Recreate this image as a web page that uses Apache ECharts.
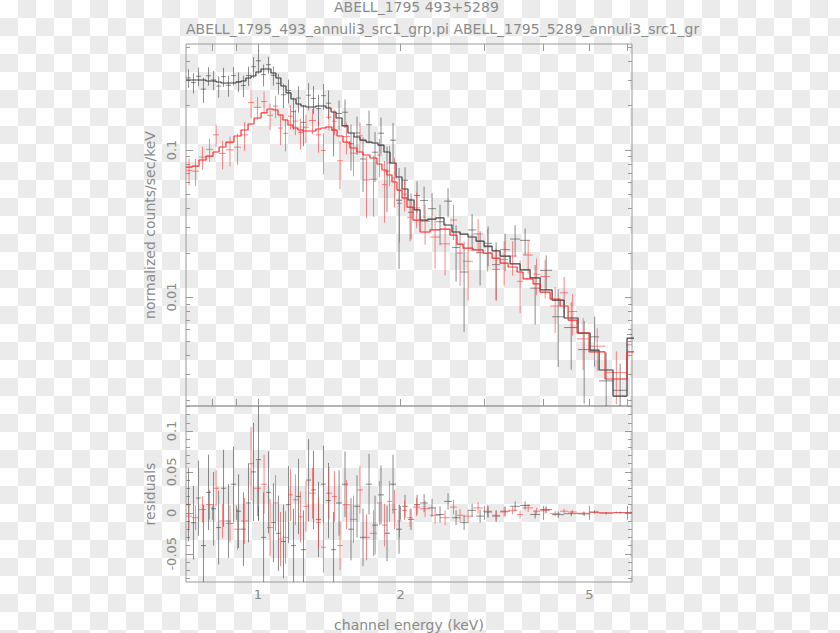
<!DOCTYPE html>
<html>
<head>
<meta charset="utf-8">
<script src="https://cdn.jsdelivr.net/npm/echarts@6/dist/echarts.min.js"></script>
<style>
  html, body { margin: 0; padding: 0; }
  body {
    width: 840px; height: 633px;
    background: repeating-conic-gradient(#ebebeb 0 25%, #ffffff 0 50%) 0 0 / 36px 36px;
  }
  #chart { width: 840px; height: 633px; }
</style>
</head>
<body>
<div id="chart"></div>
<script>
// ---- data ----
// dataset 1 (black): ABELL_1795_493
const blackEdges = [0.705,0.722,0.740,0.758,0.777,0.796,0.816,0.836,0.856,0.877,
  0.899,0.921,0.943,0.967,0.990,1.015,1.040,1.065,1.091,1.118,
  1.146,1.174,1.203,1.232,1.263,1.294,1.325,1.358,1.391,1.426,
  1.461,1.504,1.548,1.594,1.641,1.690,1.740,1.791,1.844,1.899,
  1.955,2.013,2.072,2.134,2.197,2.284,2.374,2.468,2.566,2.668,
  2.774,2.884,2.998,3.117,3.241,3.402,3.571,3.749,3.936,4.172,
  4.422,4.733,5.017,5.241,5.609,6.003,6.395]
const blackRate = [0.3094,0.2874,0.3174,0.2594,0.3197,0.2997,0.2722,0.3156,0.2756,0.3206,
  0.2922,0.2747,0.3209,0.3687,0.4043,0.3256,0.3806,0.3220,0.2839,0.2375,
  0.2543,0.1823,0.2256,0.1542,0.2361,0.2241,0.1912,0.2342,0.2081,0.1364,
  0.1771,0.1807,0.1105,0.1306,0.0869,0.1483,0.0966,0.1301,0.0719,0.1166,
  0.0455,0.0623,0.0377,0.0491,0.0454,0.0399,0.0325,0.0449,0.0217,0.0148,
  0.0286,0.0200,0.0232,0.0166,0.0210,0.0248,0.0243,0.0115,0.0152,0.00734,
  0.00620,0.00439,0.00536,0.00269,0.00232,0.00556]
const blackErr = [0.045,0.045,0.046,0.050,0.046,0.045,0.045,0.047,0.045,0.046,
  0.045,0.045,0.048,0.060,0.075,0.055,0.050,0.048,0.046,0.045,
  0.047,0.045,0.046,0.048,0.050,0.048,0.046,0.047,0.046,0.046,
  0.040,0.040,0.038,0.038,0.035,0.037,0.036,0.036,0.034,0.036,
  0.030,0.014,0.013,0.012,0.011,0.011,0.010,0.010,0.009,0.009,
  0.008,0.008,0.007,0.007,0.006,0.006,0.005,0.005,0.004,0.004,
  0.003,0.0025,0.002,0.0015,0.0012,0.0015]
const blackModel = [0.2994,0.2994,0.2994,0.2994,0.2947,0.2947,0.2902,0.2856,0.2856,0.2856,
  0.2902,0.2947,0.3089,0.3187,0.3393,0.3556,0.3556,0.3340,0.3089,0.2725,
  0.2443,0.2223,0.2056,0.1992,0.1961,0.1961,0.1992,0.1992,0.1931,0.1814,
  0.1651,0.1457,0.1305,0.1226,0.1169,0.1133,0.1116,0.1081,0.0969,0.0816,
  0.0655,0.0543,0.0457,0.0391,0.0334,0.0339,0.0345,0.0309,0.0277,0.0268,
  0.0256,0.0240,0.0222,0.0206,0.0190,0.0168,0.0153,0.0135,0.0112,0.00954,
  0.00720,0.00569,0.00436,0.00319,0.00212,0.00526]
const blackResid = [0.010,-0.012,0.018,-0.040,0.025,0.005,-0.018,0.030,-0.010,0.035,
  0.002,-0.020,0.012,0.050,0.065,-0.030,0.025,-0.012,-0.025,-0.035,
  0.010,-0.040,0.020,-0.045,0.040,0.028,-0.008,0.035,0.015,-0.045,
  0.012,0.035,-0.020,0.008,-0.030,0.035,-0.015,0.022,-0.025,0.035,
  -0.020,0.008,-0.008,0.010,0.012,0.006,-0.002,0.014,-0.006,-0.012,
  0.003,-0.004,0.001,-0.004,0.002,0.008,0.009,-0.002,0.004,-0.0022,
  -0.001,-0.0013,0.001,-0.0005,0.0002,0.0003]

// dataset 2 (red): ABELL_1795_5289
const redEdges = [0.705,0.726,0.751,0.777,0.804,0.828,0.856,0.890,0.921,0.953,
  0.981,1.015,1.045,1.076,1.102,1.129,1.157,1.185,1.214,1.244,
  1.281,1.325,1.358,1.391,1.432,1.468,1.511,1.563,1.617,1.665,
  1.723,1.782,1.826,1.871,1.917,1.964,2.013,2.062,2.123,2.197,
  2.306,2.421,2.541,2.629,2.707,2.842,2.984,3.117,3.241,3.369,
  3.520,3.624,3.804,3.936,4.132,4.337,4.509,4.710,4.993,5.396,
  6.003,6.395]
const redRate = [0.0726,0.0718,0.0895,0.1010,0.1269,0.0948,0.1003,0.1045,0.1268,0.2103,
  0.1951,0.2136,0.1721,0.1991,0.1410,0.1300,0.1699,0.1572,0.1318,0.1427,
  0.1587,0.1270,0.0992,0.1674,0.1568,0.0845,0.1233,0.0952,0.1249,0.0625,
  0.0632,0.0923,0.0581,0.0816,0.0646,0.0434,0.0502,0.0349,0.0404,0.0327,
  0.0256,0.0230,0.0334,0.0199,0.0175,0.0269,0.0219,0.0154,0.0180,0.0190,
  0.0128,0.0193,0.0143,0.0138,0.00869,0.01069,0.00797,0.00519,0.00463,0.00307,
  0.00473]
const redErr = [0.015,0.015,0.016,0.018,0.022,0.021,0.023,0.025,0.028,0.045,
  0.034,0.036,0.035,0.034,0.033,0.032,0.032,0.031,0.031,0.031,
  0.031,0.031,0.031,0.032,0.031,0.030,0.030,0.029,0.029,0.028,
  0.028,0.027,0.026,0.025,0.024,0.020,0.012,0.011,0.011,0.010,
  0.010,0.009,0.009,0.008,0.008,0.007,0.007,0.006,0.006,0.005,
  0.005,0.005,0.004,0.004,0.003,0.003,0.0025,0.002,0.0015,0.0012,
  0.0015]
const redModel = [0.0766,0.0778,0.0855,0.0910,0.0969,0.1048,0.1133,0.1245,0.1368,0.1503,
  0.1651,0.1786,0.1901,0.1871,0.1730,0.1600,0.1479,0.1412,0.1368,0.1347,
  0.1347,0.1390,0.1412,0.1434,0.1368,0.1245,0.1133,0.1032,0.0969,0.0925,
  0.0882,0.0803,0.0731,0.0676,0.0606,0.0534,0.0472,0.0409,0.0334,0.0277,
  0.0286,0.0290,0.0264,0.0229,0.0215,0.0209,0.0199,0.0184,0.0170,0.0160,
  0.0148,0.0133,0.0123,0.0108,0.00969,0.00869,0.00697,0.00569,0.00423,0.00277,
  0.00423]
const redResid = [-0.004,-0.006,0.004,0.010,0.030,-0.010,-0.013,-0.020,-0.010,0.060,
  0.030,0.035,-0.018,0.012,-0.032,-0.030,0.022,0.016,-0.005,0.008,
  0.024,-0.012,-0.042,0.024,0.020,-0.040,0.010,-0.008,0.028,-0.030,
  -0.025,0.012,-0.015,0.014,0.004,-0.010,0.003,-0.006,0.007,0.005,
  -0.003,-0.006,0.007,-0.003,-0.004,0.006,0.002,-0.003,0.001,0.003,
  -0.002,0.006,0.002,0.003,-0.001,0.002,0.001,-0.0005,0.0004,0.0003,
  0.0005]

// axis ranges and ticks
const energyRange = [0.705, 6.15]
const rateRange = [0.001815, 0.526]
const residRange = [-0.0845, 0.1305]
const xTicks = [0.8, 0.9, 1, 2, 3, 4, 5, 6]
const xTickLabels = [1, 2, 5]
const rateTickLabels = [0.01, 0.1]
const rateMinorTicks = [0.002,0.003,0.004,0.005,0.006,0.007,0.008,0.009,
  0.02,0.03,0.04,0.05,0.06,0.07,0.08,0.09,0.2,0.3,0.4,0.5]
const residTickLabels = [-0.05, 0, 0.05, 0.1]
const residMinorTicks = [-0.08,-0.07,-0.06,-0.04,-0.03,-0.02,-0.01,0.01,0.02,0.03,0.04,
  0.06,0.07,0.08,0.09,0.11,0.12,0.13]

const titleText = 'ABELL_1795 493+5289'
const subtitleText = 'ABELL_1795_493_annuli3_src1_grp.pi ABELL_1795_5289_annuli3_src1_gr'

// ---- styling ----
const FONT = 'DejaVu Sans'
const TEXT = '#8a8a8a'
const FRAME = '#9a9a9a'
const BLACK_PTS = 'rgba(70,70,70,0.62)'
const RED_PTS = 'rgba(255,60,60,0.62)'
const BLACK_MODEL = '#3c3c3c'
const RED_MODEL = '#ff2a2a'

function crosses(edges, values, errs) {
  return values.map((v, i) => [edges[i], edges[i + 1], v, errs[i]])
}

function steps(edges, values) {
  const out = []
  values.forEach((v, i) => { out.push([edges[i], v]); out.push([edges[i + 1], v]) })
  return out
}

function crossRenderer(color, floor) {
  return (params, api) => {
    const lo = api.value(0), hi = api.value(1), v = api.value(2), e = api.value(3)
    const mid = (lo + hi) / 2
    const a = api.coord([lo, v]), b = api.coord([hi, v])
    const t = api.coord([mid, v + e])
    const d = api.coord([mid, Math.max(v - e, floor)])
    const style = { stroke: color, lineWidth: 1 }
    return {
      type: 'group',
      children: [
        { type: 'line', shape: { x1: a[0], y1: a[1], x2: b[0], y2: b[1] }, style },
        { type: 'line', shape: { x1: t[0], y1: t[1], x2: d[0], y2: d[1] }, style },
      ],
    }
  }
}

function xAxis(gridIndex, position, labels, name) {
  return {
    type: 'log', gridIndex, position,
    min: energyRange[0], max: energyRange[1],
    axisLine: { show: false },
    splitLine: { show: false },
    axisTick: { inside: true, length: 7, customValues: xTicks, lineStyle: { color: FRAME } },
    axisLabel: labels
      ? { show: true, customValues: xTickLabels, margin: 6, color: TEXT, fontSize: 13, fontFamily: FONT }
      : { show: false },
    name: name || '',
    nameLocation: 'middle', nameGap: 36,
    nameTextStyle: { color: TEXT, fontSize: 14, fontFamily: FONT },
  }
}

function yAxis(gridIndex, type, range, position, ticks, len, labels, name) {
  return {
    type, gridIndex, position,
    min: range[0], max: range[1],
    axisLine: { show: false },
    splitLine: { show: false },
    axisTick: { inside: true, length: len, customValues: ticks, lineStyle: { color: FRAME } },
    axisLabel: labels
      ? { show: true, customValues: labels, rotate: 90, margin: 8, color: TEXT, fontSize: 13, fontFamily: FONT }
      : { show: false },
    name: name || '',
    nameLocation: 'middle', nameRotate: 90, nameGap: 23,
    nameTextStyle: { color: TEXT, fontSize: 14, fontFamily: FONT },
  }
}

const chart = echarts.init(document.getElementById('chart'), null, { renderer: 'svg' })

chart.setOption({
  animation: false,
  backgroundColor: 'transparent',
  title: [
    { text: titleText, left: 334, top: 0, padding: 0,
      textStyle: { color: TEXT, fontSize: 14, fontWeight: 'normal', fontFamily: FONT } },
    { text: subtitleText, left: 186, top: 22, padding: 0,
      textStyle: { color: TEXT, fontSize: 14, fontWeight: 'normal', fontFamily: FONT } },
  ],
  grid: [
    { left: 186, top: 44, width: 446, height: 362, show: true, borderColor: FRAME, borderWidth: 1 },
    { left: 186, top: 406, width: 446, height: 176, show: true, borderColor: FRAME, borderWidth: 1 },
  ],
  xAxis: [
    xAxis(0, 'bottom', false),
    xAxis(0, 'top', false),
    xAxis(1, 'bottom', true, 'channel energy (keV)'),
    xAxis(1, 'top', false),
  ],
  yAxis: [
    yAxis(0, 'log', rateRange, 'left', rateTickLabels, 7, rateTickLabels, 'normalized counts/sec/keV'),
    yAxis(0, 'log', rateRange, 'left', rateMinorTicks, 4),
    yAxis(0, 'log', rateRange, 'right', rateTickLabels, 7),
    yAxis(0, 'log', rateRange, 'right', rateMinorTicks, 4),
    yAxis(1, 'value', residRange, 'left', residTickLabels, 7, residTickLabels, 'residuals'),
    yAxis(1, 'value', residRange, 'left', residMinorTicks, 4),
    yAxis(1, 'value', residRange, 'right', residTickLabels, 7),
    yAxis(1, 'value', residRange, 'right', residMinorTicks, 4),
  ],
  series: [
    {
      type: 'custom', name: 'black data', xAxisIndex: 0, yAxisIndex: 0, clip: true,
      data: crosses(blackEdges, blackRate, blackErr),
      encode: { x: [0, 1], y: 2 },
      renderItem: crossRenderer(BLACK_PTS, rateRange[0] / 2),
    },
    {
      type: 'custom', name: 'red data', xAxisIndex: 0, yAxisIndex: 0, clip: true,
      data: crosses(redEdges, redRate, redErr),
      encode: { x: [0, 1], y: 2 },
      renderItem: crossRenderer(RED_PTS, rateRange[0] / 2),
    },
    {
      type: 'line', name: 'black model', xAxisIndex: 0, yAxisIndex: 0,
      data: steps(blackEdges, blackModel), symbol: 'none',
      lineStyle: { color: BLACK_MODEL, width: 1.2 },
    },
    {
      type: 'line', name: 'red model', xAxisIndex: 0, yAxisIndex: 0,
      data: steps(redEdges, redModel), symbol: 'none',
      lineStyle: { color: RED_MODEL, width: 1.2 },
    },
    {
      type: 'custom', name: 'black residuals', xAxisIndex: 2, yAxisIndex: 4, clip: true,
      data: crosses(blackEdges, blackResid, blackErr),
      encode: { x: [0, 1], y: 2 },
      renderItem: crossRenderer(BLACK_PTS, -1),
    },
    {
      type: 'custom', name: 'red residuals', xAxisIndex: 2, yAxisIndex: 4, clip: true,
      data: crosses(redEdges, redResid, redErr),
      encode: { x: [0, 1], y: 2 },
      renderItem: crossRenderer(RED_PTS, -1),
    },
  ],
})
</script>
</body>
</html>
